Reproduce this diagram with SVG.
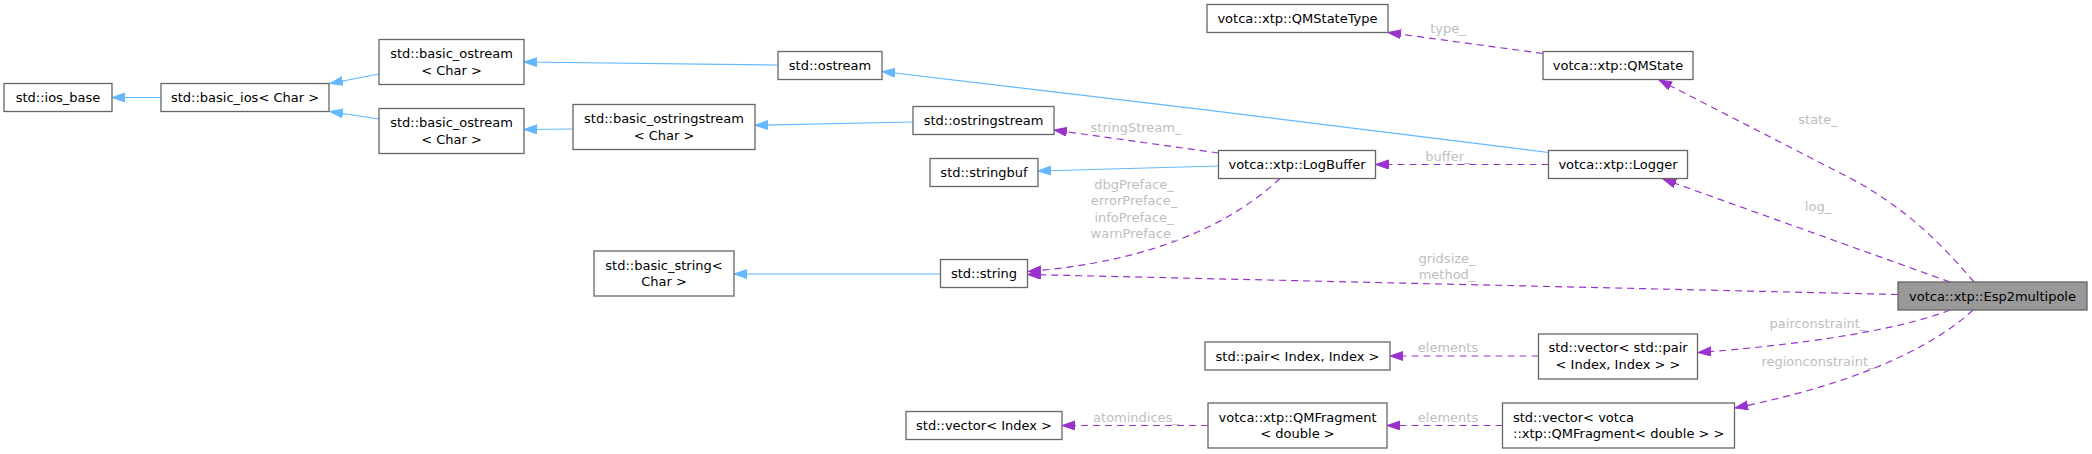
<svg xmlns="http://www.w3.org/2000/svg" width="2092" height="454" viewBox="0 0 2092 454">
<style>
.n rect{fill:#fff;stroke:#666;stroke-width:1.3}
.n.hl rect{fill:#999}
.n text{font-family:"DejaVu Sans",sans-serif;font-size:13px;fill:#000;text-anchor:middle}
.e path{fill:none;stroke-width:1.2}
.inh{stroke:#63b8ff}
.use{stroke:#9a32cd;stroke-dasharray:7,5}
.lbl{font-family:"DejaVu Sans",sans-serif;font-size:13px;fill:#bebebe;text-anchor:middle}
</style>
<defs>
<marker id="ab" markerUnits="userSpaceOnUse" markerWidth="14" markerHeight="10" refX="13" refY="4.5" orient="auto"><path d="M0,0 L13,4.5 L0,9 z" fill="#63b8ff" stroke="#63b8ff"/></marker>
<marker id="ap" markerUnits="userSpaceOnUse" markerWidth="14" markerHeight="10" refX="13" refY="4.5" orient="auto"><path d="M0,0 L13,4.5 L0,9 z" fill="#9a32cd" stroke="#9a32cd"/></marker>
</defs>
<rect width="2092" height="454" fill="#fff"/>
<g id="connectors" class="e">
<path class="inh" d="M161,97.5 L112,97.5" marker-end="url(#ab)"/>
<path class="inh" d="M379,74 L330,83.5" marker-end="url(#ab)"/>
<path class="inh" d="M379,119 L330,111.5" marker-end="url(#ab)"/>
<path class="inh" d="M778,65 L524,62" marker-end="url(#ab)"/>
<path class="inh" d="M573,129 L524,129.5" marker-end="url(#ab)"/>
<path class="inh" d="M913,122 L755,125.3" marker-end="url(#ab)"/>
<path class="inh" d="M1548.5,152.5 C1400,134 1050,90 882,71.5" marker-end="url(#ab)"/>
<path class="inh" d="M1218.5,166 L1038,171" marker-end="url(#ab)"/>
<path class="inh" d="M940.5,274 L734,274" marker-end="url(#ab)"/>
<path class="use" d="M1218.5,153 L1054,130" marker-end="url(#ap)"/>
<path class="use" d="M1548.5,164.5 L1375.5,164.5" marker-end="url(#ap)"/>
<path class="use" d="M1543,53.5 L1388,32.5" marker-end="url(#ap)"/>
<path class="use" d="M1974,282 C1935,236 1900,205 1850,178 L1659,80" marker-end="url(#ap)"/>
<path class="use" d="M1950,282 L1663,179" marker-end="url(#ap)"/>
<path class="use" d="M1898,294.5 L1028,274.5" marker-end="url(#ap)"/>
<path class="use" d="M1280,178.5 C1230,225 1150,262 1028,271.5" marker-end="url(#ap)"/>
<path class="use" d="M1538.5,356 L1390,356" marker-end="url(#ap)"/>
<path class="use" d="M1502.5,425.5 L1387,425.5" marker-end="url(#ap)"/>
<path class="use" d="M1208,425.5 L1062,425.5" marker-end="url(#ap)"/>
<path class="use" d="M1950,310 C1900,330 1800,345 1698,352.5" marker-end="url(#ap)"/>
<path class="use" d="M1973,310 C1930,350 1850,385 1735,408" marker-end="url(#ap)"/>
<text class="lbl" x="1136" y="132">stringStream_</text>
<text class="lbl" x="1448" y="160.5">buffer_</text>
<text class="lbl" x="1448" y="33">type_</text>
<text class="lbl" x="1818" y="123.5">state_</text>
<text class="lbl" x="1818" y="210.5">log_</text>
<text class="lbl" x="1447" y="262.5">gridsize_</text>
<text class="lbl" x="1447" y="279">method_</text>
<text class="lbl" x="1134" y="188.5">dbgPreface_</text>
<text class="lbl" x="1134" y="205">errorPreface_</text>
<text class="lbl" x="1134" y="221.5">infoPreface_</text>
<text class="lbl" x="1134" y="238">warnPreface_</text>
<text class="lbl" x="1448" y="352">elements</text>
<text class="lbl" x="1448" y="422">elements</text>
<text class="lbl" x="1136" y="422">atomindices_</text>
<text class="lbl" x="1818" y="328">pairconstraint_</text>
<text class="lbl" x="1818" y="366">regionconstraint_</text>
</g>
<g id="ios_base" class="n"><rect x="4" y="83.5" width="108" height="28"/><text x="58" y="102">std::ios_base</text></g>
<g id="basic_ios" class="n"><rect x="161" y="83.5" width="168" height="28"/><text x="245" y="102">std::basic_ios&lt; Char &gt;</text></g>
<g id="basic_ostream_a" class="n"><rect x="379" y="39.5" width="145" height="45"/><text x="451.5" y="58.2">std::basic_ostream</text><text x="451.5" y="74.8">&lt; Char &gt;</text></g>
<g id="basic_ostream_b" class="n"><rect x="379" y="108.5" width="145" height="45"/><text x="451.5" y="127.2">std::basic_ostream</text><text x="451.5" y="143.8">&lt; Char &gt;</text></g>
<g id="ostream" class="n"><rect x="778" y="51.5" width="104" height="28"/><text x="830" y="70">std::ostream</text></g>
<g id="basic_ostringstream" class="n"><rect x="573" y="104.5" width="182" height="45"/><text x="664" y="123.2">std::basic_ostringstream</text><text x="664" y="139.8">&lt; Char &gt;</text></g>
<g id="ostringstream" class="n"><rect x="913" y="106.5" width="141" height="28"/><text x="983.5" y="125">std::ostringstream</text></g>
<g id="stringbuf" class="n"><rect x="930" y="158.5" width="108" height="28"/><text x="984" y="177">std::stringbuf</text></g>
<g id="QMStateType" class="n"><rect x="1207" y="4.5" width="181" height="28"/><text x="1297.5" y="23">votca::xtp::QMStateType</text></g>
<g id="QMState" class="n"><rect x="1543" y="51.5" width="150" height="28"/><text x="1618" y="70">votca::xtp::QMState</text></g>
<g id="LogBuffer" class="n"><rect x="1218.5" y="150.5" width="157" height="28"/><text x="1297" y="169">votca::xtp::LogBuffer</text></g>
<g id="Logger" class="n"><rect x="1548.5" y="150.5" width="139" height="28"/><text x="1618" y="169">votca::xtp::Logger</text></g>
<g id="Esp2multipole" class="n hl"><rect x="1898" y="282" width="189" height="28"/><text x="1992.5" y="300.5">votca::xtp::Esp2multipole</text></g>
<g id="basic_string" class="n"><rect x="594" y="251" width="140" height="45"/><text x="664" y="269.7">std::basic_string&lt;</text><text x="664" y="286.3">Char &gt;</text></g>
<g id="string" class="n"><rect x="940.5" y="259.5" width="87" height="28"/><text x="984" y="278">std::string</text></g>
<g id="pair" class="n"><rect x="1205" y="342" width="185" height="28"/><text x="1297.5" y="360.5">std::pair&lt; Index, Index &gt;</text></g>
<g id="vector_pair" class="n"><rect x="1538.5" y="334" width="159" height="45"/><text x="1618" y="352.2">std::vector&lt; std::pair</text><text x="1618" y="368.8">&lt; Index, Index &gt; &gt;</text></g>
<g id="vector_Index" class="n"><rect x="906" y="411.5" width="156" height="28"/><text x="984" y="430">std::vector&lt; Index &gt;</text></g>
<g id="QMFragment" class="n"><rect x="1208" y="403" width="179" height="45"/><text x="1297.5" y="421.7">votca::xtp::QMFragment</text><text x="1297.5" y="438.3">&lt; double &gt;</text></g>
<g id="vector_QMFragment" class="n"><rect x="1502.5" y="403" width="232" height="45"/><text x="1513" y="421.7" style="text-anchor:start">std::vector&lt; votca</text><text x="1513" y="438.3" style="text-anchor:start">::xtp::QMFragment&lt; double &gt; &gt;</text></g>
</svg>
